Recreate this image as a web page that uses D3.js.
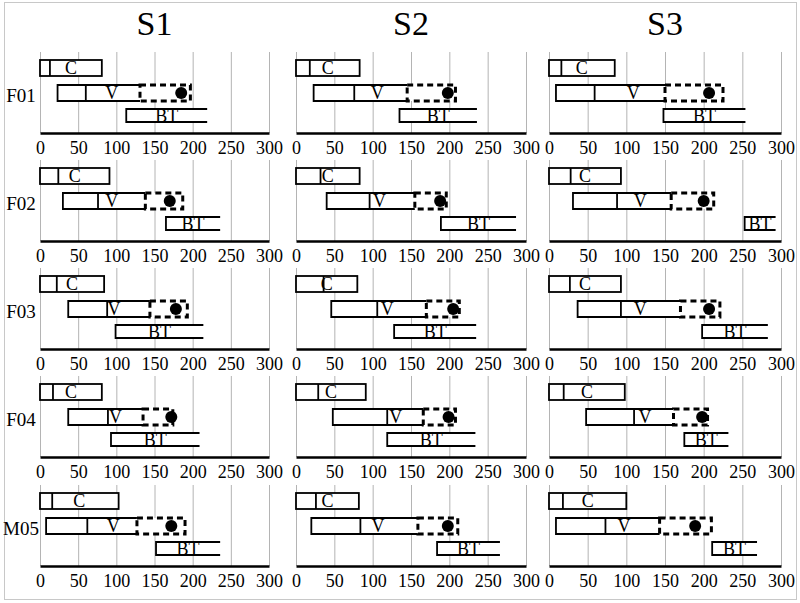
<!DOCTYPE html>
<html>
<head>
<meta charset="utf-8">
<script src="https://cdn.jsdelivr.net/npm/d3@7"></script>
<style>
  body { margin: 0; background: #fff; }
</style>
</head>
<body>
<svg width="800" height="603"></svg>
<script>
// columns and rows
var series = ["S1", "S2", "S3"];
var rows = ["F01", "F02", "F03", "F04", "M05"];
var ticks = [0, 50, 100, 150, 200, 250, 300];

// values, [row][column]
var cDiv = [[13, 18, 16], [24, 32, 28], [22, 36, 27], [17, 29, 19], [16, 26, 18]];
var cEnd = [[81, 83, 85], [91, 83, 93], [84, 80, 93], [81, 91, 98], [103, 82, 100]];
var vStart = [[23, 23, 9], [30, 40, 31], [37, 46, 37], [37, 48, 48], [8, 20, 9]];
var vDiv = [[60, 76, 59], [76, 96, 88], [88, 106, 93], [89, 119, 110], [62, 84, 73]];
var dStart = [[131, 145, 150], [138, 155, 158], [144, 170, 170], [135, 166, 161], [127, 159, 143]];
var dEnd = [[197, 208, 225], [187, 196, 213], [193, 213, 221], [174, 208, 205], [190, 211, 210]];
var dot = [[185, 198, 207], [170, 188, 200], [178, 205, 207], [172, 199, 198], [172, 198, 189]];
var btStart = [[113, 135, 148], [165, 189, 253], [99, 128, 198], [93, 119, 175], [152, 184, 211]];
var btEnd = [[219, 236, 254], [236, 287, 293], [214, 235, 283], [209, 234, 232], [236, 266, 269]];
var vText = [[94, 106, 109], [94, 109, 118], [97, 119, 118], [99, 130, 124], [96, 107, 97]];

var font = "'Liberation Serif', 'Times New Roman', 'DejaVu Serif', serif";

var svg = d3.select("svg").attr("font-family", font);

// layout
var colX = [[40, 269], [296, 526], [549, 781]],
    axisY = [133, 241, 349, 457, 566],
    plotH = 81,
    lane = {C: [-73, -57], V: [-48, -32], BT: [-24, -11]};

svg.append("rect")
    .attr("x", 4.5).attr("y", 2.5)
    .attr("width", 792).attr("height", 597)
    .attr("fill", "none").attr("stroke", "#c8c8c8");

function label(sel, size) {
  return sel.attr("dy", "0.35em")
      .attr("text-anchor", "middle")
      .style("font-family", font)
      .style("font-size", size + "px")
      .attr("fill", "#000");
}

series.forEach(function(s, j) {
  svg.append("text")
      .attr("x", (colX[j][0] + colX[j][1]) / 2)
      .attr("y", 23)
      .call(label, 34)
      .text(s);
});

rows.forEach(function(r, i) {
  var ay = axisY[i];
  svg.append("text")
      .attr("x", 21)
      .attr("y", ay - 38)
      .call(label, 19)
      .text(r);

  series.forEach(function(s, j) {
    var x = d3.scaleLinear().domain([0, 300]).range(colX[j]);
    var g = svg.append("g");

    // grid
    g.append("g")
        .attr("transform", "translate(0," + ay + ")")
        .call(d3.axisBottom(x).tickValues(ticks).tickSize(-plotH).tickFormat(""))
        .call(function(a) {
          a.select(".domain").remove();
          a.selectAll("line").attr("stroke", "#b4b4b4").attr("stroke-width", 1);
        });

    // axis
    g.append("g")
        .attr("transform", "translate(0," + ay + ")")
        .call(d3.axisBottom(x).tickValues(ticks).tickSize(0).tickPadding(8))
        .call(function(a) {
          a.attr("font-family", font).attr("font-size", 18);
          a.select(".domain").attr("stroke", "#000").attr("stroke-width", 2.6);
          a.selectAll("text").style("font-family", font).style("font-size", "18px");
        });

    var sw = 1.8;
    // C bar
    var cy0 = ay + lane.C[0], cy1 = ay + lane.C[1];
    g.append("rect")
        .attr("x", x(0)).attr("y", cy0)
        .attr("width", x(cEnd[i][j]) - x(0)).attr("height", cy1 - cy0)
        .attr("fill", "#fff").attr("stroke", "#000").attr("stroke-width", sw);
    g.append("line")
        .attr("x1", x(cDiv[i][j])).attr("x2", x(cDiv[i][j]))
        .attr("y1", cy0).attr("y2", cy1)
        .attr("stroke", "#000").attr("stroke-width", sw);
    g.append("text")
        .attr("x", x(cEnd[i][j] / 2))
        .attr("y", (cy0 + cy1) / 2)
        .call(label, 18)
        .text("C");

    // V bar
    var vy0 = ay + lane.V[0], vy1 = ay + lane.V[1];
    g.append("path")
        .attr("d", "M" + x(dStart[i][j]) + "," + vy0 + "H" + x(vStart[i][j]) +
             "V" + vy1 + "H" + x(dStart[i][j]))
        .attr("fill", "#fff").attr("stroke", "#000").attr("stroke-width", sw);
    g.append("line")
        .attr("x1", x(vDiv[i][j])).attr("x2", x(vDiv[i][j]))
        .attr("y1", vy0).attr("y2", vy1)
        .attr("stroke", "#000").attr("stroke-width", sw);
    g.append("text")
        .attr("x", x(vText[i][j]))
        .attr("y", (vy0 + vy1) / 2)
        .call(label, 18)
        .text("V");
    g.append("rect")
        .attr("x", x(dStart[i][j])).attr("y", vy0)
        .attr("width", x(dEnd[i][j]) - x(dStart[i][j])).attr("height", vy1 - vy0)
        .attr("fill", "#fff").attr("stroke", "#000").attr("stroke-width", 3)
        .attr("stroke-dasharray", "6,4");
    g.append("circle")
        .attr("cx", x(dot[i][j])).attr("cy", (vy0 + vy1) / 2)
        .attr("r", 6).attr("fill", "#000");

    // BT bar, open on the right
    var by0 = ay + lane.BT[0], by1 = ay + lane.BT[1];
    g.append("path")
        .attr("d", "M" + x(btEnd[i][j]) + "," + by0 + "H" + x(btStart[i][j]) +
             "V" + by1 + "H" + x(btEnd[i][j]))
        .attr("fill", "#fff").attr("stroke", "#000").attr("stroke-width", sw);
    g.append("text")
        .attr("x", x((btStart[i][j] + btEnd[i][j]) / 2))
        .attr("y", (by0 + by1) / 2)
        .call(label, 18)
        .text("BT");
  });
});
</script>
</body>
</html>
